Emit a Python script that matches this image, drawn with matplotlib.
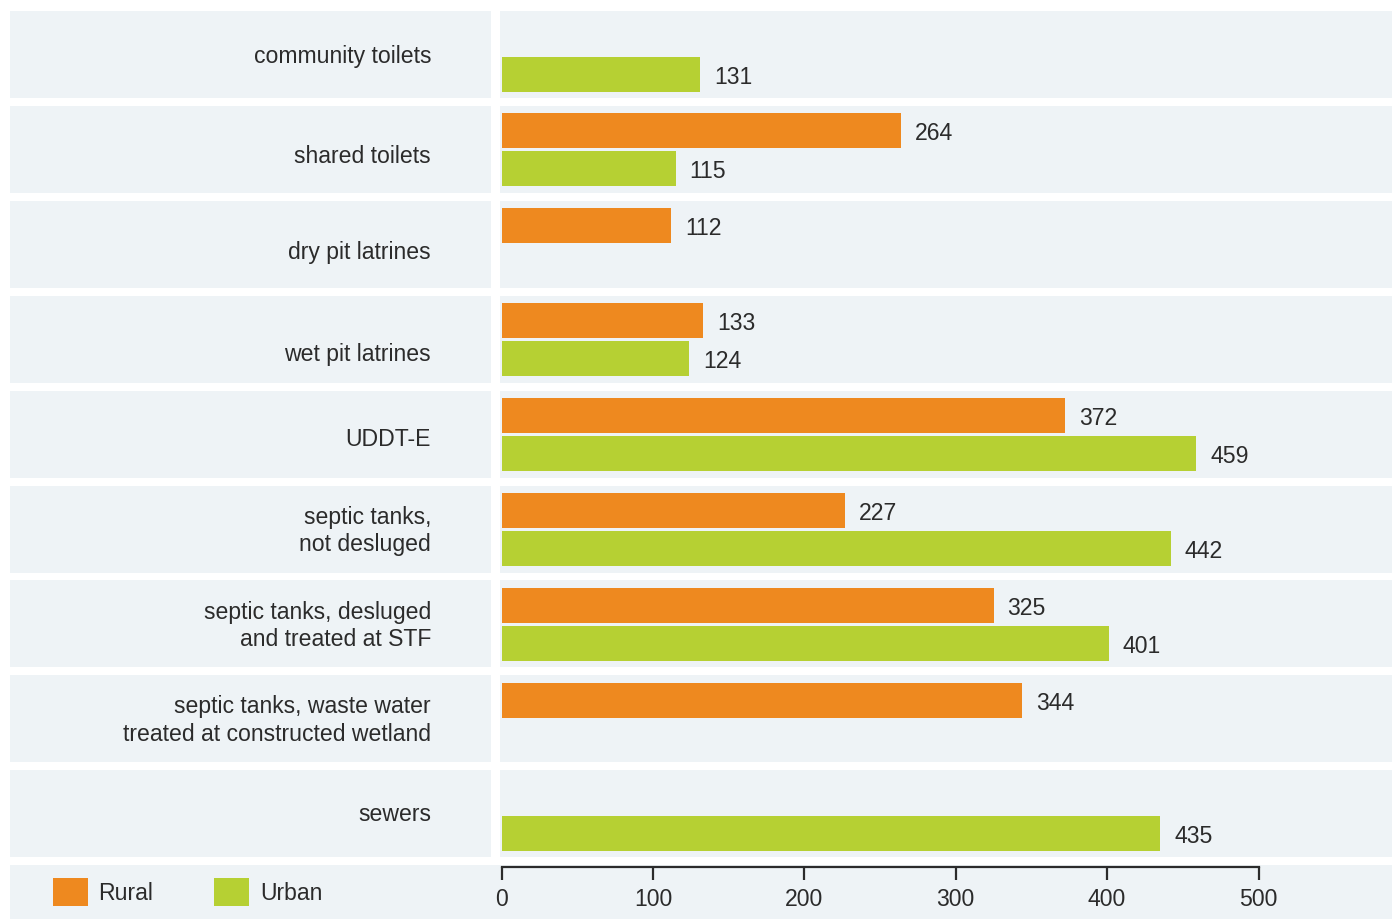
import matplotlib
matplotlib.use('Agg')
import matplotlib.pyplot as plt
from matplotlib.patches import Rectangle, Patch

# Categories, top to bottom
categorias = [
    "community toilets",
    "shared toilets",
    "dry pit latrines",
    "wet pit latrines",
    "UDDT-E",
    "septic tanks,\nnot desluged",
    "septic tanks, desluged\nand treated at STF",
    "septic tanks, waste water\ntreated at constructed wetland",
    "sewers",
]
rural = [None, 264, 112, 133, 372, 227, 325, 344, None]
urban = [131, 115, None, 124, 459, 442, 401, None, 435]
ticks_x = [0, 100, 200, 300, 400, 500]

COLOR_RURAL = '#EE891F'
COLOR_URBAN = '#B6D033'
COLOR_PANEL = '#EEF3F6'
COLOR_TEXT = '#2B2B2B'

plt.rcParams['font.family'] = ['Liberation Sans', 'DejaVu Sans']
FS = 16.6

W, H = 1392, 919
fig = plt.figure(figsize=(W / 100, H / 100), dpi=100)
fig.patch.set_facecolor('white')
ax = fig.add_axes([0, 0, 1, 1])
ax.set_facecolor('white')

# pixel geometry of the layout
x0_px, px_per_unit = 501.5, 1.514
row0_px, row_pitch = 54.5, 94.9
ax.set_xlim(-x0_px / px_per_unit, (W - x0_px) / px_per_unit)
ax.set_ylim((H - row0_px) / row_pitch, -row0_px / row_pitch)

def px2x(px):
    return (px - x0_px) / px_per_unit

half = 43.5 / row_pitch
bar_h = 35 / row_pitch
off_r = -18.5 / row_pitch
off_u = 19.5 / row_pitch
n = len(categorias)

# background panels for each row
for i in range(n):
    ax.add_patch(Rectangle((px2x(10), i - half), px2x(491) - px2x(10), 2 * half,
                           facecolor=COLOR_PANEL, edgecolor='none', zorder=0))
    ax.add_patch(Rectangle((px2x(500), i - half), px2x(W + 5) - px2x(500), 2 * half,
                           facecolor=COLOR_PANEL, edgecolor='none', zorder=0))
# bottom band holding legend and axis
ax.add_patch(Rectangle((px2x(10), n - half), px2x(W + 5) - px2x(10), 1.0,
                       facecolor=COLOR_PANEL, edgecolor='none', zorder=0))

# bars
yr = [i + off_r for i, v in enumerate(rural) if v is not None]
vr = [v for v in rural if v is not None]
yu = [i + off_u for i, v in enumerate(urban) if v is not None]
vu = [v for v in urban if v is not None]
ax.barh(yr, vr, height=bar_h, color=COLOR_RURAL, zorder=2)
ax.barh(yu, vu, height=bar_h, color=COLOR_URBAN, zorder=2)

for y, v in list(zip(yr, vr)) + list(zip(yu, vu)):
    ax.annotate(str(v), xy=(v, y), xytext=(14, -3), textcoords='offset pixels',
                ha='left', va='center', fontsize=FS, color=COLOR_TEXT)

# category labels
label_dy = [2, 7, 8, 15, 5, 2, 2, 2, 1]
for i, cat in enumerate(categorias):
    ax.text(px2x(431), i + label_dy[i] / row_pitch, cat, ha='right', va='center',
            fontsize=FS, color=COLOR_TEXT, linespacing=1.26)

# x axis along the bottom band
for s in ['top', 'right', 'left']:
    ax.spines[s].set_visible(False)
ax.spines['bottom'].set_position(('data', (867 - row0_px) / row_pitch))
ax.spines['bottom'].set_bounds(0, 500)
ax.spines['bottom'].set_linewidth(1.6)
ax.spines['bottom'].set_color(COLOR_TEXT)
ax.spines['bottom'].set_zorder(3)
ax.set_xticks(ticks_x)
ax.set_xticklabels([str(t) for t in ticks_x])
ax.tick_params(axis='x', direction='out', length=9, width=1.6, color=COLOR_TEXT,
               labelsize=FS, labelcolor=COLOR_TEXT, pad=6)
ax.set_yticks([])

# legend
handles = [Patch(facecolor=COLOR_RURAL, label='Rural'),
           Patch(facecolor=COLOR_URBAN, label='Urban')]
ax.legend(handles=handles, loc='center left', bbox_to_anchor=(53 / W, 1 - 892 / H),
          bbox_transform=fig.transFigure, ncol=2, frameon=False, fontsize=FS,
          handlelength=1.52, handleheight=1.5, handletextpad=0.45,
          columnspacing=2.65, borderpad=0, borderaxespad=0, labelcolor=COLOR_TEXT)

fig.savefig('out.png', dpi=100, facecolor='white')
